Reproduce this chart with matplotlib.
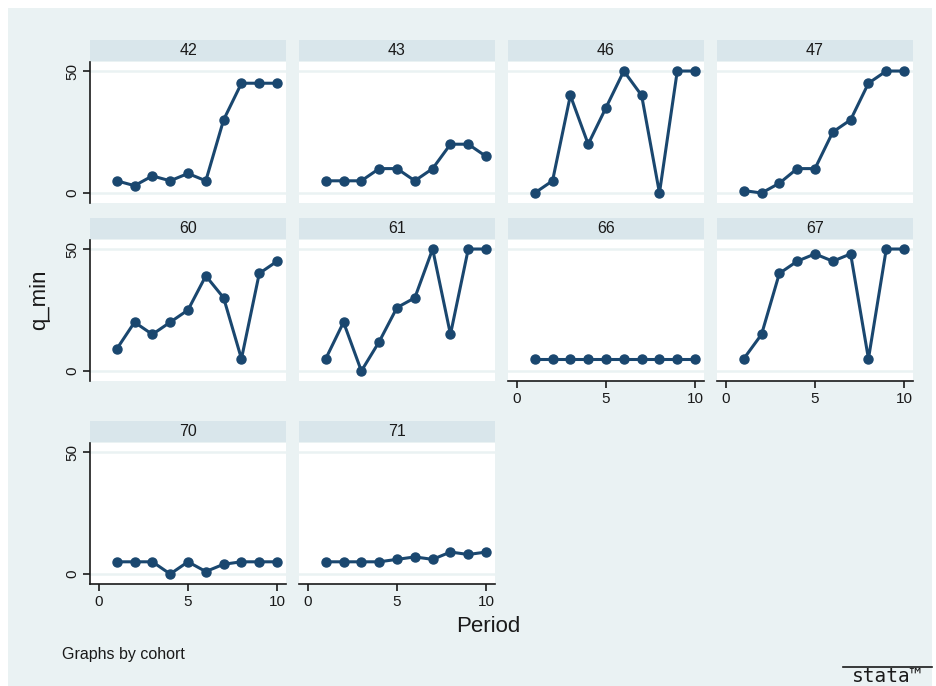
import matplotlib.pyplot as plt
from matplotlib.patches import Rectangle

plt.rcParams['font.family'] = ['Liberation Sans', 'DejaVu Sans']

periods = [1, 2, 3, 4, 5, 6, 7, 8, 9, 10]
cohorts = [42, 43, 46, 47, 60, 61, 66, 67, 70, 71]
q_min = {
    42: [5, 3, 7, 5, 8, 5, 30, 45, 45, 45],
    43: [5, 5, 5, 10, 10, 5, 10, 20, 20, 15],
    46: [0, 5, 40, 20, 35, 50, 40, 0, 50, 50],
    47: [1, 0, 4, 10, 10, 25, 30, 45, 50, 50],
    60: [9, 20, 15, 20, 25, 39, 30, 5, 40, 45],
    61: [5, 20, 0, 12, 26, 30, 50, 15, 50, 50],
    66: [5, 5, 5, 5, 5, 5, 5, 5, 5, 5],
    67: [5, 15, 40, 45, 48, 45, 48, 5, 50, 50],
    70: [5, 5, 5, 0, 5, 1, 4, 5, 5, 5],
    71: [5, 5, 5, 5, 6, 7, 6, 9, 8, 9],
}
x_ticks = [0, 5, 10]
y_ticks = [0, 50]

BG = '#EAF2F3'
STRIP = '#D9E6EB'
NAVY = '#1A476F'
INK = '#1a1a1a'

W, H = 936, 686
fig = plt.figure(figsize=(W / 100, H / 100), dpi=100)
fig.patch.set_facecolor('white')
fig.patches.append(Rectangle((8 / W, 0), (W - 12) / W, (H - 8) / H,
                             transform=fig.transFigure, facecolor=BG,
                             edgecolor='none', zorder=-10))


def px_axes(x0, y0, x1, y1, **kw):
    # pixel box (top-left origin) -> figure axes
    return fig.add_axes([x0 / W, 1 - y1 / H, (x1 - x0) / W, (y1 - y0) / H], **kw)


col_left = [90, 299, 508, 717]
panel_w = 196
row_top = [40, 218, 421]
strip_h = 21
plot_h = 141

for i, c in enumerate(cohorts):
    r, k = divmod(i, 4)
    x0 = col_left[k]
    y0 = row_top[r]
    # strip with cohort label
    sax = px_axes(x0, y0, x0 + panel_w, y0 + strip_h)
    sax.set_facecolor(STRIP)
    sax.set_xticks([])
    sax.set_yticks([])
    for s in sax.spines.values():
        s.set_visible(False)
    sax.text(0.5, 0.5, str(c), ha='center', va='center', fontsize=11.5,
             color=INK, transform=sax.transAxes)

    ax = px_axes(x0, y0 + strip_h + 1, x0 + panel_w, y0 + strip_h + 1 + plot_h)
    ax.set_facecolor('white')
    ax.set_xlim(-0.5, 10.5)
    ax.set_ylim(-4.1, 53.7)
    for yv in y_ticks:
        ax.axhline(yv, color=BG, lw=1.8, zorder=1)
    ax.plot(periods, q_min[c], color=NAVY, lw=2.2, marker='o', ms=6.5,
            zorder=3)
    for s in ax.spines.values():
        s.set_visible(False)

    bottom = (r == 2) or (r == 1 and k >= 2)
    if k == 0:
        ax.spines['left'].set_visible(True)
        ax.spines['left'].set_linewidth(1.2)
        ax.spines['left'].set_color(INK)
        ax.set_yticks(y_ticks)
        ax.set_yticklabels([str(v) for v in y_ticks], rotation=90,
                           va='center', fontsize=11, color=INK)
        ax.tick_params(axis='y', length=5, width=1.2, pad=3, color=INK)
    else:
        ax.set_yticks([])
    if bottom:
        ax.spines['bottom'].set_visible(True)
        ax.spines['bottom'].set_linewidth(1.2)
        ax.spines['bottom'].set_color(INK)
        ax.set_xticks(x_ticks)
        ax.set_xticklabels([str(v) for v in x_ticks], fontsize=11, color=INK)
        ax.tick_params(axis='x', length=5, width=1.2, pad=3, color=INK)
    else:
        ax.set_xticks([])

fig.text(40 / W, 1 - 300 / H, 'q_min', rotation=90, ha='center', va='center',
         fontsize=16, color=INK)
fig.text(488 / W, 1 - 627 / H, 'Period', ha='center', va='center', fontsize=16,
         color=INK)
fig.text(62 / W, 1 - 654 / H, 'Graphs by cohort', ha='left', va='center',
         fontsize=11.5, color=INK)

# Stata mark in the corner
fig.text(887 / W, 1 - 677 / H, 'stata™', ha='center', va='center',
         fontsize=14, family='DejaVu Sans Mono', color=INK)
fig.lines.append(plt.Line2D([843 / W, 932 / W], [1 - 667 / H, 1 - 667 / H],
                            transform=fig.transFigure, color=INK, lw=1.2))

fig.savefig('out.png', dpi=100, facecolor=fig.get_facecolor())
